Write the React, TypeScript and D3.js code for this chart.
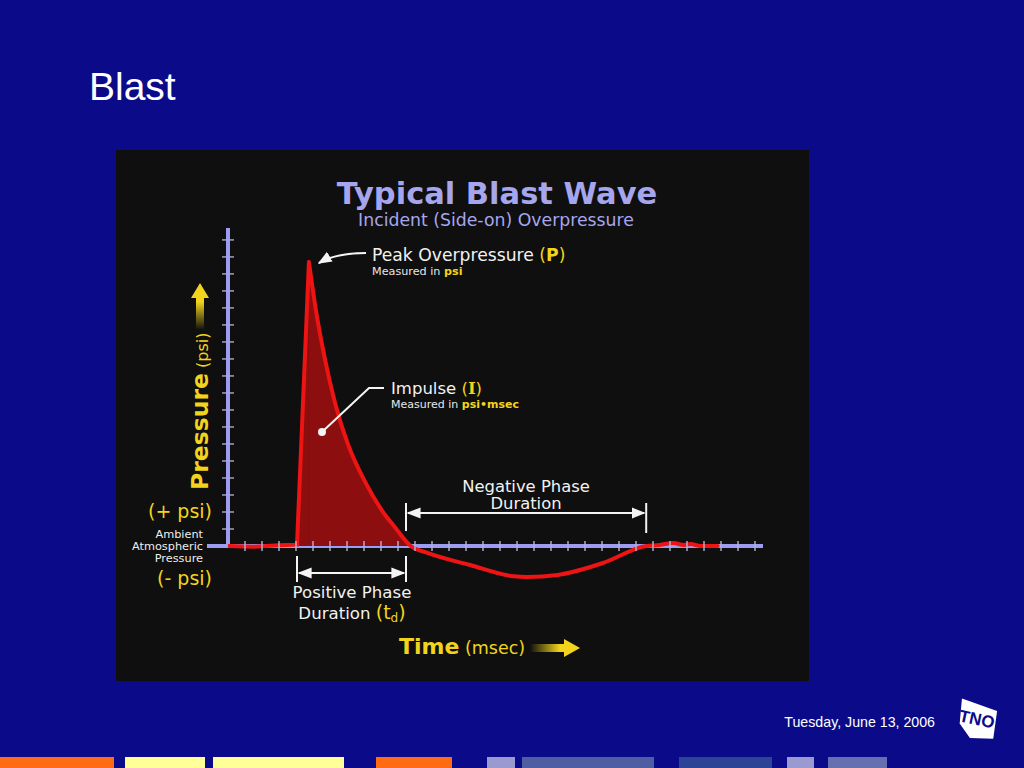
import * as d3 from 'd3';

// time in msec-ish units (one tick each), pressure in psi-ish units (one tick each)
const RISE = [
  { t: 0, p: 0 },
  { t: 1.5, p: -0.04 },
  { t: 3, p: 0.05 },
  { t: 4.06, p: 0.08 },
  { t: 4.76, p: 16.7 },
];
const DECAY = [
  { t: 4.76, p: 16.7 },
  { t: 5.15, p: 14.0 },
  { t: 5.7, p: 11.0 },
  { t: 6.3, p: 8.4 },
  { t: 7.05, p: 6.0 },
  { t: 8.05, p: 3.8 },
  { t: 9.05, p: 2.1 },
  { t: 9.9, p: 1.0 },
  { t: 10.35, p: 0.42 },
  { t: 10.75, p: 0 },
  { t: 11.65, p: -0.38 },
  { t: 14.24, p: -1.12 },
  { t: 16.8, p: -1.78 },
  { t: 17.6, p: -1.82 },
  { t: 19.4, p: -1.7 },
  { t: 22.06, p: -1.0 },
  { t: 24.6, p: 0 },
  { t: 25.4, p: 0.06 },
  { t: 26.2, p: 0.18 },
  { t: 26.8, p: 0.06 },
  { t: 27.2, p: 0.12 },
  { t: 27.8, p: 0 },
  { t: 28.8, p: 0 },
];
const X_TICKS = d3.range(1, 32);
const Y_TICKS = d3.range(1, 19);
const RISE_T = 4.06;
const POS_END_T = 10.47;
const RETURN_T = 24.6;

const FOOTER_BARS = [
  { x0: 0, x1: 114, c: '#ff6a12' },
  { x0: 125, x1: 205, c: '#ffff99' },
  { x0: 213, x1: 344, c: '#ffff99' },
  { x0: 376, x1: 452, c: '#ff6a12' },
  { x0: 487, x1: 515, c: '#9a9ad0' },
  { x0: 522, x1: 654, c: '#4f5ea2' },
  { x0: 679, x1: 772, c: '#2c4496' },
  { x0: 787, x1: 814, c: '#9a9ad0' },
  { x0: 828, x1: 887, c: '#6670b0' },
];

const FONT = '"DejaVu Sans", Verdana, sans-serif';
const ARIAL = '"Liberation Sans", Arial, sans-serif';
const YEL = '#f2d41c';
const LAV = '#a6a6ee';

export default function App() {
  const x = d3.scaleLinear().domain([0, 31.47]).range([228, 763]);
  const y = d3.scaleLinear().domain([0, 18.7]).range([546, 228]);

  const lineLin = d3.line<{ t: number; p: number }>().x((d) => x(d.t)).y((d) => y(d.p));
  const lineMono = d3
    .line<{ t: number; p: number }>()
    .x((d) => x(d.t))
    .y((d) => y(d.p))
    .curve(d3.curveMonotoneX);
  const areaLin = d3
    .area<{ t: number; p: number }>()
    .x((d) => x(d.t))
    .y0(y(0))
    .y1((d) => y(d.p));
  const areaMono = d3
    .area<{ t: number; p: number }>()
    .x((d) => x(d.t))
    .y0(y(0))
    .y1((d) => y(d.p))
    .curve(d3.curveMonotoneX);

  const risePos = RISE.filter((d) => d.t >= RISE_T);
  const firstNeg = DECAY.findIndex((d, i) => i > 0 && d.p <= 0);
  const decayPos = DECAY.slice(0, firstNeg + 1);
  const peak = DECAY[0];

  const xr = x(RISE_T);
  const xc = x(POS_END_T);
  const xn = x(RETURN_T);

  return (
    <svg
      width={1024}
      height={768}
      style={{ position: 'absolute', left: 0, top: 0, display: 'block' }}
    >
      <defs>
        <linearGradient id="gUp" x1="0" y1="1" x2="0" y2="0">
          <stop offset="0" stopColor={YEL} stopOpacity={0} />
          <stop offset="0.6" stopColor={YEL} stopOpacity={1} />
        </linearGradient>
        <linearGradient id="gRight" x1="0" y1="0" x2="1" y2="0">
          <stop offset="0" stopColor={YEL} stopOpacity={0} />
          <stop offset="0.6" stopColor={YEL} stopOpacity={1} />
        </linearGradient>
        <marker id="ah" viewBox="0 0 10 10" refX="9" refY="5" markerWidth="7" markerHeight="7" orient="auto-start-reverse">
          <path d="M0,1 L10,5 L0,9 z" fill="#f4f4f4" />
        </marker>
      </defs>

      <rect width={1024} height={768} fill="#0b0b8a" />
      <text x={89} y={100} fill="#fff" fontFamily={ARIAL} fontSize={39}>
        Blast
      </text>

      {/* chart panel */}
      <rect x={116} y={150} width={693} height={531} fill="#0f0f0f" />

      <text x={497} y={204} textAnchor="middle" fill={LAV} fontFamily={FONT} fontWeight="bold" fontSize={30.5}>
        Typical Blast Wave
      </text>
      <text x={496} y={226} textAnchor="middle" fill={LAV} fontFamily={FONT} fontSize={17.3}>
        Incident (Side-on) Overpressure
      </text>

      {/* axes */}
      <line x1={x(0)} x2={x(0)} y1={y(18.7)} y2={y(0)} stroke="#9c9cf0" strokeWidth={4} />
      <line x1={207} x2={x(31.47)} y1={y(0)} y2={y(0)} stroke="#9c9cf0" strokeWidth={4} />

      {/* impulse fill */}
      <path d={areaLin(risePos) ?? undefined} fill="#8c0e0e" />
      <path d={areaMono(decayPos) ?? undefined} fill="#8c0e0e" />

      {/* wave */}
      <path d={lineLin(RISE) ?? undefined} fill="none" stroke="#ee1414" strokeWidth={4} strokeLinejoin="miter" strokeMiterlimit={20} />
      <path d={lineMono(DECAY) ?? undefined} fill="none" stroke="#ee1414" strokeWidth={4} strokeLinecap="round" />

      {/* ticks */}
      {Y_TICKS.map((v) => (
        <line key={`yt${v}`} x1={x(0) - 6} x2={x(0) + 6} y1={y(v)} y2={y(v)} stroke="#a8a8d8" strokeWidth={1.4} />
      ))}
      {X_TICKS.map((v) => (
        <line key={`xt${v}`} x1={x(v)} x2={x(v)} y1={y(0) - 5} y2={y(0) + 5} stroke="#b4b4dc" strokeWidth={1.4} />
      ))}

      {/* peak annotation */}
      <path
        d={`M366,253 C346,253 331,256 ${x(peak.t) + 10},${y(peak.p) + 1}`}
        fill="none"
        stroke="#f4f4f4"
        strokeWidth={2}
        markerEnd="url(#ah)"
      />
      <text x={372} y={261} fill="#f2f2f2" fontFamily={FONT} fontSize={17.2}>
        Peak Overpressure <tspan fill={YEL}>(</tspan>
        <tspan fill={YEL} fontWeight="bold">P</tspan>
        <tspan fill={YEL}>)</tspan>
      </text>
      <text x={372} y={275} fill="#e8e8e8" fontFamily={FONT} fontSize={11.2}>
        Measured in <tspan fill={YEL} fontWeight="bold">psi</tspan>
      </text>

      {/* impulse annotation */}
      <polyline points="322,432 369,388 384,388" fill="none" stroke="#f4f4f4" strokeWidth={2} />
      <circle cx={322} cy={432} r={4} fill="#f4f4f4" />
      <text x={391} y={394} fill="#f2f2f2" fontFamily={FONT} fontSize={16.5}>
        Impulse <tspan fill={YEL}>(</tspan>
        <tspan fill={YEL} fontWeight="bold" fontFamily='"DejaVu Serif", serif'>I</tspan>
        <tspan fill={YEL}>)</tspan>
      </text>
      <text x={391} y={408} fill="#e8e8e8" fontFamily={FONT} fontSize={11}>
        Measured in <tspan fill={YEL} fontWeight="bold">psi•msec</tspan>
      </text>

      {/* negative phase */}
      <line x1={xc} x2={xc} y1={503} y2={531} stroke="#f4f4f4" strokeWidth={2} />
      <line x1={xn} x2={xn} y1={503} y2={533} stroke="#f4f4f4" strokeWidth={2} />
      <line x1={xc + 2} x2={xn - 2} y1={513} y2={513} stroke="#f4f4f4" strokeWidth={2} markerStart="url(#ah)" markerEnd="url(#ah)" />
      <text x={526} y={492} textAnchor="middle" fill="#f2f2f2" fontFamily={FONT} fontSize={16.4}>
        Negative Phase
      </text>
      <text x={526} y={509} textAnchor="middle" fill="#f2f2f2" fontFamily={FONT} fontSize={16.4}>
        Duration
      </text>

      {/* positive phase */}
      <line x1={xr} x2={xr} y1={556} y2={582} stroke="#f4f4f4" strokeWidth={2} />
      <line x1={xc} x2={xc} y1={556} y2={582} stroke="#f4f4f4" strokeWidth={2} />
      <line x1={xr + 2} x2={xc - 2} y1={573} y2={573} stroke="#f4f4f4" strokeWidth={2} markerStart="url(#ah)" markerEnd="url(#ah)" />
      <text x={352} y={598} textAnchor="middle" fill="#f2f2f2" fontFamily={FONT} fontSize={16.6}>
        Positive Phase
      </text>
      <text x={352} y={619} textAnchor="middle" fill="#f2f2f2" fontFamily={FONT} fontSize={16.6}>
        Duration <tspan fill={YEL} fontSize={19}>(t</tspan>
        <tspan fill={YEL} fontSize={12} dy={3}>d</tspan>
        <tspan fill={YEL} fontSize={19} dy={-3}>)</tspan>
      </text>

      {/* left labels */}
      <text x={212} y={518} textAnchor="end" fill={YEL} fontFamily={FONT} fontSize={19}>
        (+ psi)
      </text>
      <text x={212} y={585} textAnchor="end" fill={YEL} fontFamily={FONT} fontSize={19}>
        (- psi)
      </text>
      {['Ambient', 'Atmospheric', 'Pressure'].map((s, i) => (
        <text key={s} x={203} y={538 + i * 12} textAnchor="end" fill="#eeeeee" fontFamily={FONT} fontSize={11.3}>
          {s}
        </text>
      ))}

      {/* y axis title */}
      <text
        transform="translate(208,490) rotate(-90)"
        fill={YEL}
        fontFamily={FONT}
        fontSize={16}
      >
        <tspan fontWeight="bold" fontSize={23.5}>Pressure</tspan> (psi)
      </text>
      <path d="M196,330 L196,298 L191,298 L200,283 L209,298 L204,298 L204,330 Z" fill="url(#gUp)" />

      {/* x axis title */}
      <text x={399} y={654} fill={YEL} fontFamily={FONT} fontSize={17.5}>
        <tspan fontWeight="bold" fontSize={22}>Time</tspan> (msec)
      </text>
      <path d="M530,644 L564,644 L564,639 L580,648 L564,657 L564,652 L530,652 Z" fill="url(#gRight)" />

      {/* footer */}
      <text x={935} y={727} textAnchor="end" fill="#fff" fontFamily={ARIAL} fontSize={14.2}>
        Tuesday, June 13, 2006
      </text>
      <g transform="translate(977,719) rotate(12)">
        <path d="M-19,-17 L18,-12 L20,16 L-3,20 L-16,8 Z" fill="#fff" />
        <text x={0} y={6} textAnchor="middle" fill="#0b0b8a" fontFamily={ARIAL} fontWeight="bold" fontSize={17}>
          TNO
        </text>
      </g>
      {FOOTER_BARS.map((b) => (
        <rect key={b.x0} x={b.x0} y={757} width={b.x1 - b.x0} height={11} fill={b.c} />
      ))}
    </svg>
  );
}
